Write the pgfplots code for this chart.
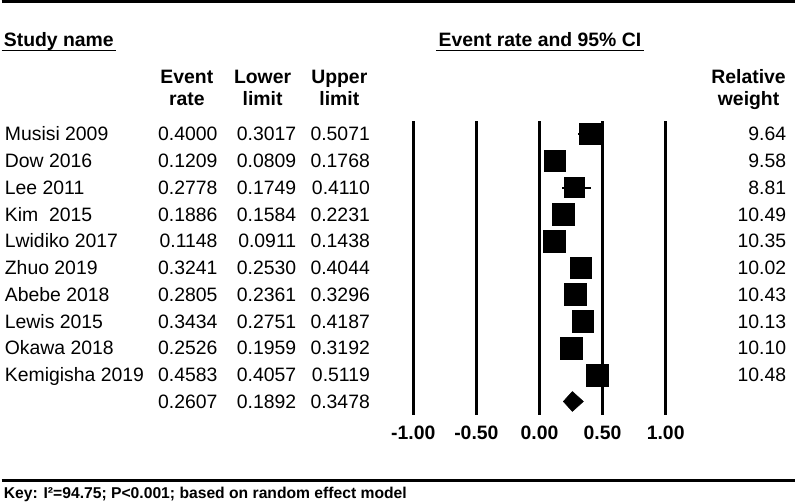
\documentclass[border=0pt]{standalone}
\usepackage{fontspec}
\setmainfont{Liberation Sans}
\usepackage{pgfplots}
\pgfplotsset{compat=1.18}
\usepackage{pgfplotstable}

\pgfplotstableread{
y er lo hi w
11 0.4000 0.3017 0.5071 9.64
10 0.1209 0.0809 0.1768 9.58
9 0.2778 0.1749 0.4110 8.81
8 0.1886 0.1584 0.2231 10.49
7 0.1148 0.0911 0.1438 10.35
6 0.3241 0.2530 0.4044 10.02
5 0.2805 0.2361 0.3296 10.43
4 0.3434 0.2751 0.4187 10.13
3 0.2526 0.1959 0.3192 10.10
2 0.4583 0.4057 0.5119 10.48
}\studies

\tikzset{txt/.style={inner sep=0pt, yshift=-5.2pt, font=\fontsize{14.6}{16.9}\selectfont},
         btxt/.style={inner sep=0pt, yshift=-5.2pt, font=\bfseries\fontsize{14.6}{16.9}\selectfont}}

\newcommand\row[6]{%
  \node[txt, anchor=base west] at (axis cs:-4.238,#1) {#2};
  \node[txt, anchor=base east] at (axis cs:-2.549,#1) {#3};
  \node[txt, anchor=base east] at (axis cs:-1.926,#1) {#4};
  \node[txt, anchor=base east] at (axis cs:-1.342,#1) {#5};
  \node[txt, anchor=base east] at (axis cs:1.957,#1) {#6};
}

\begin{document}
\begin{tikzpicture}
\begin{axis}[
  width=597.75pt, height=384pt, scale only axis,
  xmin=-4.262, xmax=2.028, ymin=-3.041, ymax=16.028,
  axis lines=none, clip=false,
]
% reference lines
\addplot[black, line width=2.1pt] coordinates {(-1,0.497) (-1,11.484)};
\addplot[black, line width=2.1pt] coordinates {(-0.5,0.497) (-0.5,11.484)};
\addplot[black, line width=2.1pt] coordinates {(0,0.497) (0,11.484)};
\addplot[black, line width=2.1pt] coordinates {(0.5,0.497) (0.5,11.484)};
\addplot[black, line width=2.1pt] coordinates {(1,0.497) (1,11.484)};
% confidence intervals
\addplot[draw=none, mark=none,
  error bars/.cd, x dir=both, x explicit, error mark=none,
  error bar style={draw=black, line width=1.5pt}]
  table[x=er, y=y,
        x error plus expr=\thisrow{hi}-\thisrow{er},
        x error minus expr=\thisrow{er}-\thisrow{lo}]{\studies};
% study squares sized by weight
\addplot[scatter, only marks, mark=square*, draw=black, fill=black,
  mark options={line width=0.2pt},
  scatter/use mapped color={draw=black, fill=black},
  visualization depends on={2.55*sqrt(\thisrow{w}) \as \msz},
  scatter/@pre marker code/.append style={/tikz/mark size=\msz}]
  table[x=er, y=y]{\studies};
% summary diamond
\addplot[draw=black, fill=black] coordinates {(0.1892,1) (0.2607,1.372) (0.3478,1) (0.2607,0.628) (0.1892,1)};

% rows of text
\row{11}{Musisi 2009}{0.4000}{0.3017}{0.5071}{9.64}
\row{10}{Dow 2016}{0.1209}{0.0809}{0.1768}{9.58}
\row{9}{Lee 2011}{0.2778}{0.1749}{0.4110}{8.81}
\row{8}{Kim\ \ 2015}{0.1886}{0.1584}{0.2231}{10.49}
\row{7}{Lwidiko 2017}{0.1148}{0.0911}{0.1438}{10.35}
\row{6}{Zhuo 2019}{0.3241}{0.2530}{0.4044}{10.02}
\row{5}{Abebe 2018}{0.2805}{0.2361}{0.3296}{10.43}
\row{4}{Lewis 2015}{0.3434}{0.2751}{0.4187}{10.13}
\row{3}{Okawa 2018}{0.2526}{0.1959}{0.3192}{10.10}
\row{2}{Kemigisha 2019}{0.4583}{0.4057}{0.5119}{10.48}
\row{1}{}{0.2607}{0.1892}{0.3478}{}

% headers
\draw[line width=2.4pt] (axis cs:-4.262,15.953) -- (axis cs:2.028,15.953);
\node[btxt, anchor=base west] at (axis cs:-4.246,14.538) {Study name};
\draw[line width=1.2pt] (axis cs:-4.262,14.128) -- (axis cs:-3.354,14.128);
\node[btxt, anchor=base] at (axis cs:0.004,14.538) {Event rate and 95\% CI};
\draw[line width=1.2pt] (axis cs:-0.821,14.128) -- (axis cs:0.829,14.128);
\node[btxt, anchor=base] at (axis cs:-2.794,13.15) {Event};
\node[btxt, anchor=base] at (axis cs:-2.794,12.32) {rate};
\node[btxt, anchor=base] at (axis cs:-2.194,13.15) {Lower};
\node[btxt, anchor=base] at (axis cs:-2.194,12.32) {limit};
\node[btxt, anchor=base] at (axis cs:-1.586,13.15) {Upper};
\node[btxt, anchor=base] at (axis cs:-1.586,12.32) {limit};
\node[btxt, anchor=base] at (axis cs:1.657,13.15) {Relative};
\node[btxt, anchor=base] at (axis cs:1.657,12.32) {weight};

% tick labels
\node[btxt, anchor=base] at (axis cs:-1,-0.173) {-1.00};
\node[btxt, anchor=base] at (axis cs:-0.5,-0.173) {-0.50};
\node[btxt, anchor=base] at (axis cs:0,-0.173) {0.00};
\node[btxt, anchor=base] at (axis cs:0.5,-0.173) {0.50};
\node[btxt, anchor=base] at (axis cs:1,-0.173) {1.00};

% bottom rule and key
\draw[line width=2.4pt] (axis cs:-4.262,-1.961) -- (axis cs:2.028,-1.961);
\node[inner sep=0pt, anchor=base west, yshift=-4.2pt, font=\bfseries\fontsize{11.8}{13}\selectfont] at (axis cs:-4.246,-2.426) {Key: I²=94.75; P<0.001; based on random effect model};
\end{axis}
\end{tikzpicture}
\end{document}
